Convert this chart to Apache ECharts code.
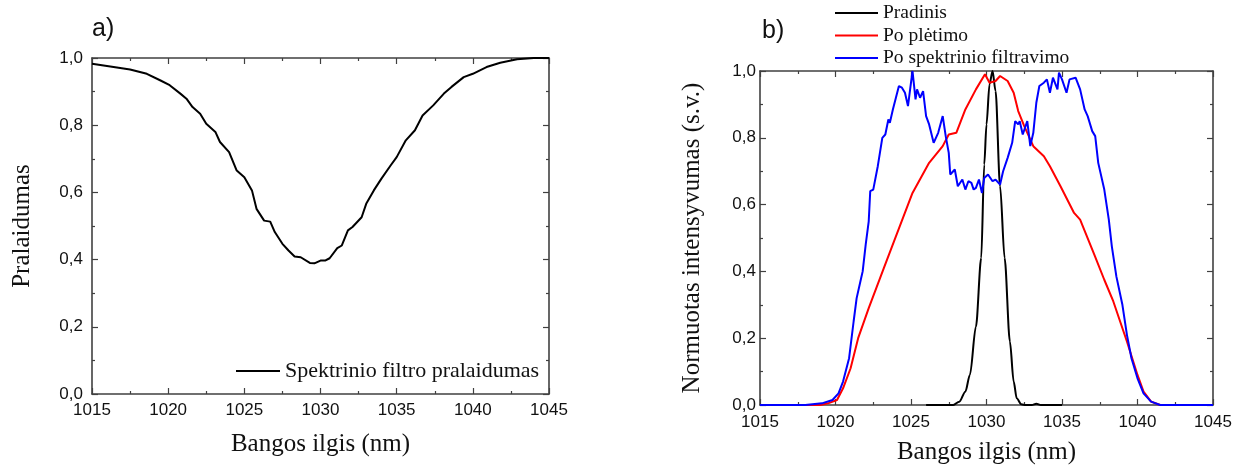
<!DOCTYPE html>
<html>
<head>
<meta charset="utf-8">
<script src="https://cdn.jsdelivr.net/npm/echarts@6/dist/echarts.min.js"></script>
<style>
html,body{margin:0;padding:0;background:#fff;}
#chart{width:1248px;height:470px;}
</style>
</head>
<body>
<div id="chart"></div>
<script>
// ---- Panel a: filter transmission ----
const aWavelength = [1015,1016.2,1017.5,1018.6,1019.5,1020.1,1020.8,1021.2,1021.6,1022.1,1022.5,1023.1,1023.4,1024.0,1024.5,1025.0,1025.5,1025.8,1026.3,1026.7,1027.0,1027.5,1027.9,1028.3,1028.7,1029.3,1029.6,1030.0,1030.3,1030.6,1031.1,1031.4,1031.8,1032.1,1032.7,1033.0,1033.5,1034.0,1034.6,1035.0,1035.6,1036.2,1036.7,1037.4,1038.1,1038.6,1039.4,1040.0,1040.9,1041.8,1042.9,1044.0,1045];
const aTransmission = [0.983,0.975,0.966,0.953,0.933,0.919,0.894,0.879,0.854,0.834,0.804,0.780,0.750,0.720,0.665,0.645,0.606,0.551,0.516,0.513,0.482,0.447,0.427,0.409,0.407,0.390,0.389,0.397,0.397,0.404,0.434,0.442,0.487,0.497,0.526,0.566,0.606,0.641,0.680,0.705,0.755,0.785,0.829,0.859,0.894,0.914,0.943,0.953,0.973,0.986,0.996,1.0,1.0];

// ---- Panel b: normalized spectra ----
const bInitWavelength = [1026,1027.8,1028.2,1028.6,1028.9,1029.3,1029.65,1029.85,1030.0,1030.2,1030.4,1030.6,1030.9,1031.2,1031.55,1031.8,1032.0,1032.3,1032.6,1033.0,1033.3,1033.6,1035];
const bInitIntensity = [0,0,0.01,0.04,0.09,0.235,0.44,0.72,0.84,0.96,1.0,0.94,0.655,0.44,0.19,0.07,0.02,0.002,0,0,0.004,0,0];

const bBroadWavelength = [1015,1019.0,1019.5,1020.1,1020.5,1021.0,1021.5,1022.2,1023.2,1024.0,1025.1,1026.2,1027.1,1027.5,1028.0,1028.6,1029.3,1029.9,1030.2,1030.6,1030.9,1031.4,1031.8,1032.1,1032.5,1033.1,1033.8,1034.2,1034.9,1035.8,1036.2,1037.1,1037.8,1038.4,1039.3,1040.0,1040.4,1040.9,1041.5,1045];
const bBroadIntensity = [0,0,0.005,0.015,0.05,0.11,0.20,0.29,0.41,0.505,0.635,0.725,0.775,0.81,0.815,0.885,0.945,0.99,0.965,0.97,0.985,0.97,0.935,0.88,0.835,0.775,0.745,0.715,0.655,0.575,0.555,0.455,0.375,0.31,0.19,0.09,0.04,0.01,0,0];

const bFiltWavelength = [1015,1018,1019.1,1019.8,1020.2,1020.5,1020.9,1021.2,1021.4,1021.7,1021.8,1022.0,1022.2,1022.3,1022.5,1022.8,1023.1,1023.3,1023.5,1023.6,1023.8,1024.0,1024.2,1024.4,1024.6,1024.8,1024.9,1025.1,1025.3,1025.4,1025.6,1025.8,1026.0,1026.2,1026.5,1026.8,1027.1,1027.3,1027.5,1027.6,1027.9,1028.1,1028.4,1028.6,1028.8,1029.0,1029.15,1029.3,1029.5,1029.7,1029.85,1030.1,1030.4,1030.6,1030.9,1031.1,1031.4,1031.7,1031.9,1032.1,1032.2,1032.4,1032.7,1032.9,1033.1,1033.3,1033.5,1033.8,1034.0,1034.2,1034.4,1034.7,1034.8,1035.0,1035.3,1035.5,1035.9,1036.2,1036.5,1036.7,1037.0,1037.2,1037.4,1037.8,1038.1,1038.3,1038.6,1039.0,1039.3,1039.6,1040.0,1040.4,1040.9,1041.5,1045];
const bFiltIntensity = [0,0,0.005,0.015,0.035,0.07,0.14,0.25,0.32,0.38,0.40,0.48,0.55,0.64,0.645,0.715,0.80,0.81,0.855,0.845,0.885,0.92,0.955,0.95,0.935,0.895,0.93,1.0,0.915,0.945,0.92,0.94,0.865,0.84,0.785,0.815,0.865,0.805,0.755,0.69,0.705,0.655,0.675,0.645,0.67,0.665,0.645,0.65,0.675,0.635,0.68,0.69,0.67,0.675,0.66,0.70,0.74,0.785,0.85,0.84,0.85,0.81,0.85,0.775,0.815,0.905,0.955,0.965,0.975,0.935,0.98,0.945,0.995,0.975,0.935,0.975,0.98,0.945,0.885,0.865,0.82,0.805,0.725,0.645,0.555,0.475,0.385,0.30,0.21,0.14,0.08,0.035,0.01,0,0];

const xMin = 1015, xMax = 1045, xStep = 5;
const yMin = 0, yMax = 1, yStep = 0.2;

const nameA = 'Spektrinio filtro pralaidumas';
const nameInit = 'Pradinis';
const nameBroad = 'Po plėtimo';
const nameFilt = 'Po spektrinio filtravimo';

function zip(xs, ys){ const n=Math.min(xs.length, ys.length); const r=[]; for(let i=0;i<n;i++) r.push([xs[i], ys[i]]); return r; }

const AX = '#404040';
const SANS = '"Liberation Sans", Arial, sans-serif';
const SERIF = '"Liberation Serif", "Times New Roman", serif';

function xAxisDef(grid, bottom, nameGap, labelMargin){
  return {
    type:'value', gridIndex:grid, position: bottom?'bottom':'top',
    min:xMin, max:xMax, interval:xStep,
    name: bottom ? 'Bangos ilgis (nm)' : '',
    nameLocation:'middle', nameGap:nameGap,
    nameTextStyle:{fontFamily:SERIF, fontSize:25, color:'#111'},
    axisLine:{show:true, onZero:false, lineStyle:{color:AX, width:1.6}},
    axisTick:{show:true, inside:true, length:6, lineStyle:{color:AX, width:1.2}},
    minorTick:{show:true, splitNumber:2, length:3, lineStyle:{color:AX, width:1.2}},
    axisLabel:{show:bottom, margin:labelMargin, fontFamily:SANS, fontSize:17, color:'#111',
      formatter:v=>String(v)},
    splitLine:{show:false}
  };
}
function yAxisDef(grid, left, name, nameGap, labelMargin){
  return {
    type:'value', gridIndex:grid, position: left?'left':'right',
    min:yMin, max:yMax, interval:yStep,
    name: left ? name : '',
    nameLocation:'middle', nameGap:nameGap, nameRotate:90,
    nameTextStyle:{fontFamily:SERIF, fontSize:25, color:'#111'},
    axisLine:{show:true, onZero:false, lineStyle:{color:AX, width:1.6}},
    axisTick:{show:true, inside:true, length:6, lineStyle:{color:AX, width:1.2}},
    minorTick:{show:true, splitNumber:2, length:3, lineStyle:{color:AX, width:1.2}},
    axisLabel:{show:left, margin:labelMargin, fontFamily:SANS, fontSize:17, color:'#111',
      formatter:v=>v.toFixed(1).replace('.', ',')},
    splitLine:{show:false}
  };
}

const chart = echarts.init(document.getElementById('chart'), null, {renderer:'canvas'});
chart.setOption({
  animation:false,
  backgroundColor:'#fff',
  title:[
    {text:'a)', left:92, top:17, padding:0, textStyle:{fontFamily:SANS, fontSize:25, fontWeight:'normal', color:'#111'}},
    {text:'b)', left:762, top:19, padding:0, textStyle:{fontFamily:SANS, fontSize:25, fontWeight:'normal', color:'#111'}}
  ],
  grid:[
    {left:92, top:58, width:457, height:336},
    {left:760, top:71, width:453, height:336}
  ],
  legend:[
    {data:[nameA], left:236, top:360, padding:0, icon:'rect', itemWidth:44, itemHeight:2, itemGap:4,
     textStyle:{fontFamily:SERIF, fontSize:22, color:'#111', lineHeight:22}},
    {data:[nameInit, nameBroad, nameFilt], left:835, top:3, padding:0, orient:'vertical', icon:'rect',
     itemWidth:43, itemHeight:2, itemGap:2.5,
     textStyle:{fontFamily:SERIF, fontSize:19.5, color:'#111', lineHeight:20}}
  ],
  xAxis:[
    xAxisDef(0, true, 38, 8), xAxisDef(0, false, 0, 8),
    xAxisDef(1, true, 35, 9), xAxisDef(1, false, 0, 9)
  ],
  yAxis:[
    yAxisDef(0, true, 'Pralaidumas', 57.5, 9), yAxisDef(0, false, '', 0, 9),
    yAxisDef(1, true, 'Normuotas intensyvumas (s.v.)', 55.5, 4), yAxisDef(1, false, '', 0, 4)
  ],
  series:[
    {name:nameA, type:'line', xAxisIndex:0, yAxisIndex:0, data:zip(aWavelength, aTransmission),
     showSymbol:false, symbol:'none', lineStyle:{color:'#000', width:2}, itemStyle:{color:'#000'}},
    {name:nameInit, type:'line', xAxisIndex:2, yAxisIndex:2, data:zip(bInitWavelength, bInitIntensity),
     showSymbol:false, symbol:'none', smooth:0.3, smoothMonotone:'x', lineStyle:{color:'#000', width:2}, itemStyle:{color:'#000'}},
    {name:nameBroad, type:'line', xAxisIndex:2, yAxisIndex:2, data:zip(bBroadWavelength, bBroadIntensity),
     showSymbol:false, symbol:'none', lineStyle:{color:'#ff0000', width:2}, itemStyle:{color:'#ff0000'}},
    {name:nameFilt, type:'line', xAxisIndex:2, yAxisIndex:2, data:zip(bFiltWavelength, bFiltIntensity),
     showSymbol:false, symbol:'none', lineStyle:{color:'#0000ff', width:2}, itemStyle:{color:'#0000ff'}}
  ]
});
</script>
</body>
</html>
